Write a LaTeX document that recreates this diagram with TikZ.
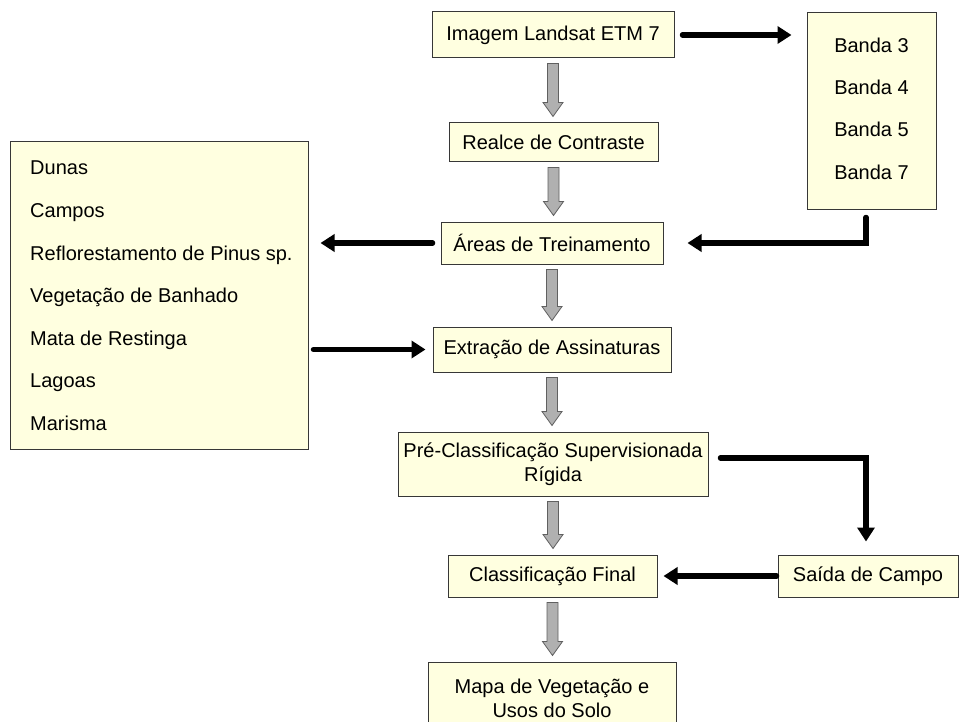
\documentclass[tikz,border=0pt]{standalone}
\usepackage{fontspec}
\setmainfont{Liberation Sans}
\usetikzlibrary{arrows.meta,calc}
\definecolor{boxfill}{RGB}{255,255,224}
\definecolor{boxline}{RGB}{55,55,55}
\definecolor{garfill}{RGB}{176,176,176}
\definecolor{gardraw}{RGB}{96,96,96}
\newcommand\fs{\fontsize{20}{24}\selectfont}
\newcommand\grayarr[2]{%
  \path[fill=garfill,draw=gardraw,line width=0.8pt]
    let \p1=([yshift=-5pt]#1.south), \p2=([yshift=6pt]#2.north) in
    (\x1-5.5pt,\y1) -- (\x1+5.5pt,\y1) -- (\x1+5.5pt,\y2+14pt) -- (\x1+10pt,\y2+14pt)
    -- (\x1,\y2) -- (\x1-10pt,\y2+14pt) -- (\x1-5.5pt,\y2+14pt) -- cycle;}
\begin{document}
\begin{tikzpicture}[x=1pt,y=-1pt,
  box/.style={draw=boxline,fill=boxfill,line width=1pt,inner sep=0pt,font=\fs,align=center},
  lbl/.style={font=\fs,inner sep=0pt},
  blk/.style={line width=5.5pt,line cap=round,-{Triangle[length=14pt,width=17pt]}}]
\useasboundingbox[fill=white] (0,0) rectangle (960,722);
% main column
\node[box,minimum width=242pt,minimum height=46pt] (img) at (553,35) {Imagem Landsat ETM 7};
\node[box,minimum width=209pt,minimum height=39pt] (real) at (553.5,142.5) {Realce de Contraste};
\node[box,minimum width=222pt,minimum height=42pt] (areas) at (552,243) {Áreas de Treinamento};
\node[box,minimum width=238pt,minimum height=45pt] (extr) at (552,349.5) {Extração de Assinaturas};
\node[box,minimum width=310pt,minimum height=64pt] (pre) at (553,464) {Pré-Classificação Supervisionada\\Rígida};
\node[box,minimum width=209pt,minimum height=42pt] (cf) at (552.5,576) {Classificação Final};
\node[box,minimum width=248pt,minimum height=73pt] (mapa) at (552,698.5) {Mapa de Vegetação e\\Usos do Solo};
% right boxes
\node[box,minimum width=129pt,minimum height=196pt] (banda) at (871.5,111) {};
\node[lbl,anchor=base] (b3) at (871.5,53) {Banda 3};
\node[lbl,anchor=base] (b4) at (871.5,95) {Banda 4};
\node[lbl,anchor=base] (b5) at (871.5,137) {Banda 5};
\node[lbl,anchor=base] (b7) at (871.5,179) {Banda 7};
\node[box,minimum width=180pt,minimum height=42pt] (saida) at (868,576) {Saída de Campo};
% left list
\node[box,minimum width=298pt,minimum height=307pt] (lista) at (159,295.5) {};
\node[lbl,anchor=base west] (l1) at (30,175) {Dunas};
\node[lbl,anchor=base west] (l2) at (30,217.5) {Campos};
\node[lbl,anchor=base west] (l3) at (30,260) {Reflorestamento de Pinus sp.};
\node[lbl,anchor=base west] (l4) at (30,302.5) {Vegetação de Banhado};
\node[lbl,anchor=base west] (l5) at (30,345) {Mata de Restinga};
\node[lbl,anchor=base west] (l6) at (30,387.5) {Lagoas};
\node[lbl,anchor=base west] (l7) at (30,430) {Marisma};
% gray block arrows
\grayarr{img}{real}
\grayarr{real}{areas}
\grayarr{areas}{extr}
\grayarr{extr}{pre}
\grayarr{pre}{cf}
\grayarr{cf}{mapa}
% black arrows
\draw[blk] ($(img.east)+(8,0)$) -- ($(banda.west |- img.east)+(-15,0)$);
\draw[blk] ($(banda.south)+(-5.5,8)$) |- ($(areas.east)+(24,0)$);
\draw[blk] ($(areas.west)+(-8,0)$) -- ($(lista.east |- areas.west)+(12,0)$);
\draw[blk] ($(lista.east |- extr.west)+(5,0)$) -- ($(extr.west)+(-7,0)$);
\draw[blk] ($(pre.east)+(12,-6)$) -| ($(saida.north)+(-2,-13)$);
\draw[blk] ($(saida.west)+(-1,0)$) -- ($(cf.east)+(6,0)$);
\end{tikzpicture}
\end{document}
